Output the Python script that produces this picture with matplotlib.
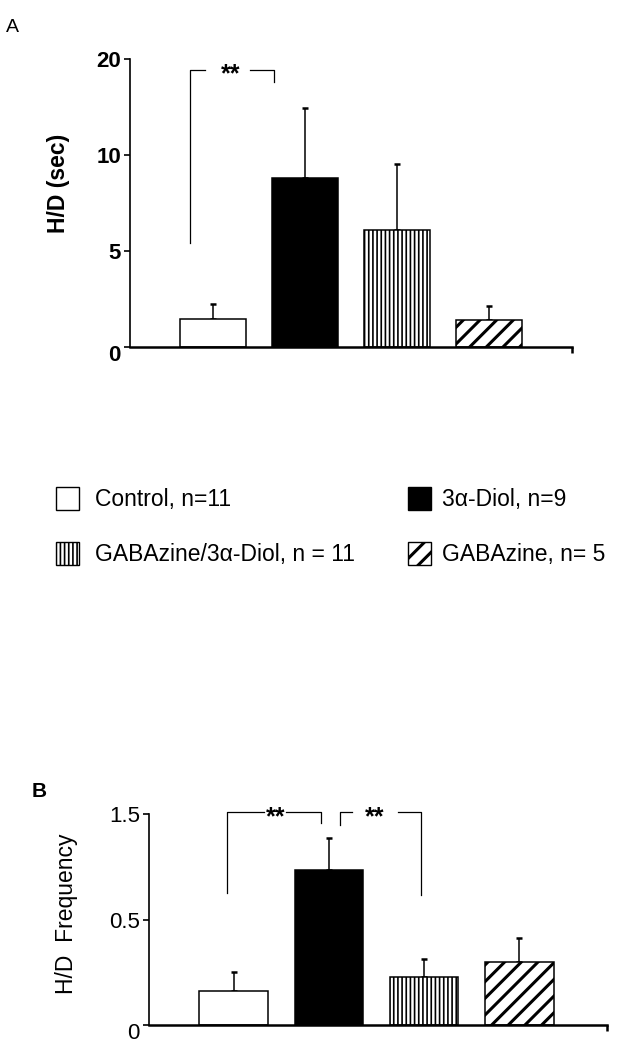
import numpy as np
import matplotlib.pyplot as plt
import matplotlib.transforms as mtransforms
from matplotlib.patches import Rectangle

plt.rcParams['font.family'] = ['Liberation Sans', 'DejaVu Sans']
plt.rcParams['hatch.linewidth'] = 1.2

# groups, in bar order
groups = ['Control, n=11', '3\u03b1-Diol, n=9', 'GABAzine/3\u03b1-Diol, n = 11', 'GABAzine, n= 5']
faces = ['white', 'black', 'white', 'white']
hatches = ['', '', '||||', '//']

# panel A: H/D duration (plotted on the figure's own scale, top tick labelled 20)
hd_sec = [1.46, 8.82, 6.08, 1.41]
hd_sec_err = [0.76, 3.61, 3.44, 0.73]
a_ticks = [0, 5, 10, 15]
a_ticklabels = ['0', '5', '10', '20']

# panel B: H/D frequency (top tick labelled 1.5)
hd_freq = [0.163, 0.736, 0.229, 0.300]
hd_freq_err = [0.087, 0.150, 0.084, 0.111]
b_ticks = [0, 0.5, 1.0]
b_ticklabels = ['0', '0.5', '1.5']

x = np.arange(len(groups))

fig = plt.figure(figsize=(6.25, 10.5), dpi=100)
W, H = 625.0, 1050.0


def px_axes(l, r, b, t):
    return fig.add_axes([l / W, 1 - b / H, (r - l) / W, (b - t) / H])


def thick_hatch(p, hatch):
    if hatch == '//' and hasattr(p, 'set_hatch_linewidth'):
        p.set_hatch_linewidth(2.2)


def bars(ax, vals, errs, xlim, ylim, ticks, ticklabels, bold):
    for i in range(len(vals)):
        b = ax.bar(x[i], vals[i], width=0.72, color=faces[i], edgecolor='black',
                   linewidth=1.1, hatch=hatches[i], zorder=2)
        for p in b:
            thick_hatch(p, hatches[i])
    ax.errorbar(x, vals, yerr=[np.zeros(len(vals)), errs], fmt='none', ecolor='black',
                elinewidth=1.1, capsize=2.5, capthick=1.8, zorder=1)
    ax.set_xlim(*xlim)
    ax.set_ylim(*ylim)
    for s in ['top', 'right']:
        ax.spines[s].set_visible(False)
    ax.spines['left'].set_linewidth(1.2)
    ax.spines['bottom'].set_linewidth(1.8)
    ax.set_xticks([xlim[1]])
    ax.set_xticklabels([''])
    ax.tick_params(axis='x', length=4, width=1.8, direction='out')
    ax.set_yticks(ticks)
    ax.set_yticklabels(ticklabels, fontsize=16, fontweight='bold' if bold else 'normal')
    ax.tick_params(axis='y', length=4, width=1.2, direction='out', pad=2.5)
    # the "0" sits a little below its tick
    lab0 = ax.get_yticklabels()[0]
    lab0.set_transform(lab0.get_transform() +
                       mtransforms.ScaledTranslation(0, -6 / 100, fig.dpi_scale_trans))


def bracket(ax, x0, x1, y0, y1, ytop, g0, g1, xs):
    ax.plot([x0, x0, g0], [y0, ytop, ytop], color='black', lw=0.9, clip_on=False)
    ax.plot([g1, x1, x1], [ytop, ytop, y1], color='black', lw=0.9, clip_on=False)
    ax.annotate('**', xy=(xs, ytop), xytext=(0, -8.5), textcoords='offset points',
                ha='center', va='baseline', fontsize=18, fontweight='bold',
                annotation_clip=False)


# ---- panel A
axA = px_axes(130, 572, 347, 59)
bars(axA, hd_sec, hd_sec_err, (-0.9, 3.9), (0, 15), a_ticks, a_ticklabels, True)
axA.set_ylabel('H/D (sec)', fontsize=16.5, fontweight='bold')
axA.yaxis.set_label_coords(-0.135, 0.569)
bracket(axA, -0.25, 0.66, 5.42, 13.8, 14.43, -0.085, 0.40, 0.19)
fig.text(6 / W, 1 - 32 / H, 'A', fontsize=14, ha='left', va='baseline')

# ---- legend
sq = 23
rows = [498, 553]
cols = [(56, 95), (408, 442)]
order = [(0, 0, 0), (1, 0, 1), (2, 1, 0), (3, 1, 1)]
for gi, r, c in order:
    sx, tx = cols[c]
    cy = rows[r]
    rect = Rectangle((sx / W, 1 - (cy + sq / 2) / H), sq / W, sq / H,
                     transform=fig.transFigure, facecolor=faces[gi],
                     edgecolor='black', linewidth=1.0, hatch=hatches[gi])
    thick_hatch(rect, hatches[gi])
    fig.add_artist(rect)
    fig.text(tx / W, 1 - (cy + 8) / H, groups[gi], fontsize=16.5, ha='left', va='baseline')

# ---- panel B
axB = px_axes(149, 607, 1025, 814)
bars(axB, hd_freq, hd_freq_err, (-0.89, 3.92), (0, 1.0), b_ticks, b_ticklabels, False)
axB.set_ylabel('H/D  Frequency', fontsize=16.5)
axB.yaxis.set_label_coords(-0.155, 0.526)
bracket(axB, -0.066, 0.918, 0.626, 0.956, 1.008, 0.32, 0.55, 0.437)
bracket(axB, 1.117, 1.965, 0.948, 0.616, 1.008, 1.243, 1.72, 1.48)
fig.text(32 / W, 1 - 797 / H, 'B', fontsize=15, fontweight='bold', ha='left', va='baseline')

fig.savefig('out.png', dpi=100)
